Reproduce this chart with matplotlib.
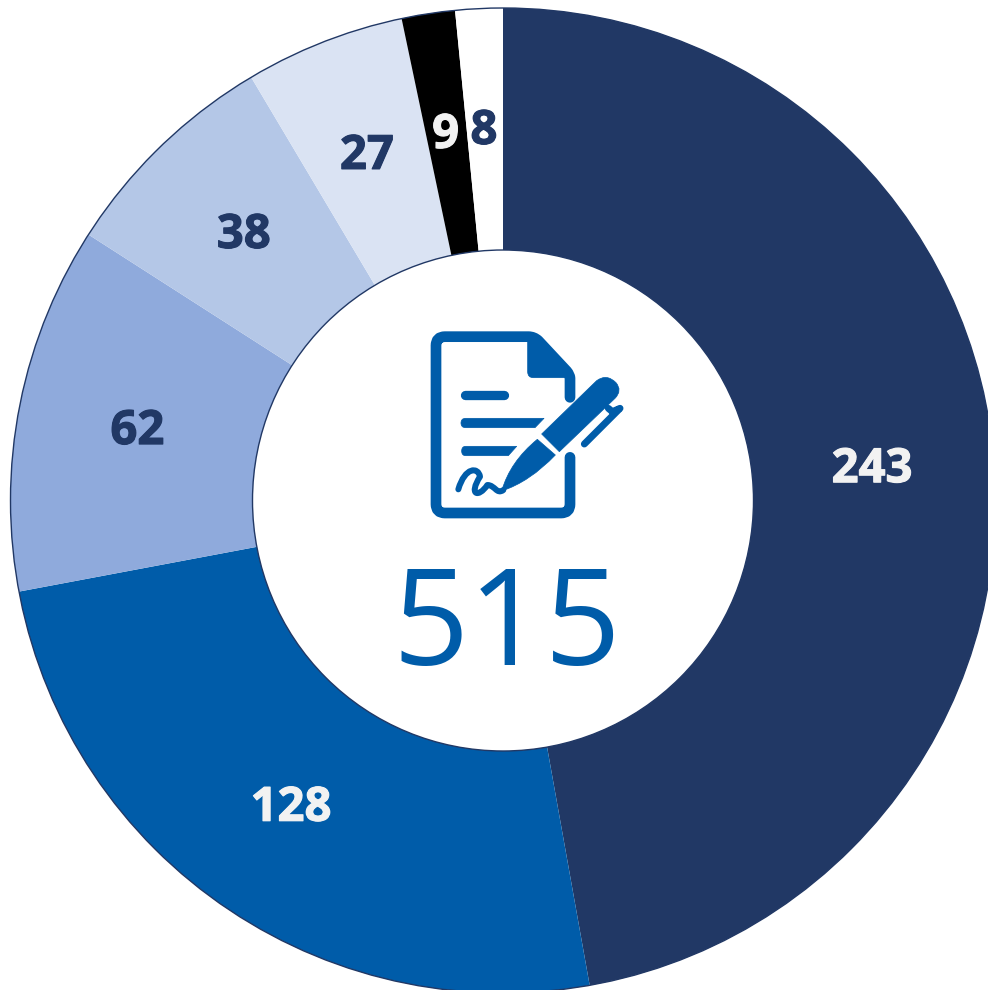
import numpy as np
import matplotlib
matplotlib.use('Agg')
import matplotlib.pyplot as plt
import matplotlib.patheffects as pe
from matplotlib.patches import Circle, PathPatch
from matplotlib.path import Path

values = [243, 128, 62, 38, 27, 9, 8]
total = 515
colors = ['#213865', '#005CA9', '#8FAADC', '#B4C7E7', '#DAE3F3', '#000000', '#FFFFFF']
label_colors = ['#F2F2F2', '#F2F2F2', '#213865', '#213865', '#213865', '#F2F2F2', '#213865']
icon_color = '#005CA9'
navy = '#213865'

fig = plt.figure(figsize=(9.88, 9.90), dpi=100)
ax = fig.add_axes([0, 0, 1, 1])

# pixel layout of the ring
cx, cy = 503, 489.5
R = 492.5
r = 250.5

wedges, _ = ax.pie(values, colors=colors, startangle=90, counterclock=False,
                   center=(cx, cy), radius=R, wedgeprops={'width': R - r, 'linewidth': 0})
ax.set_xlim(0, 988)
ax.set_ylim(0, 990)
ax.set_aspect('equal')
ax.axis('off')

# thin outline on outer and inner arcs only
ax.add_patch(Circle((cx, cy), R, fill=False, edgecolor=navy, linewidth=1))
ax.add_patch(Circle((cx, cy), r, fill=False, edgecolor=navy, linewidth=1))

for w, v, c in zip(wedges, values, label_colors):
    a = np.deg2rad((w.theta1 + w.theta2) / 2)
    d = (R + r) / 2
    ax.text(cx + d * np.cos(a) - 1, cy + d * np.sin(a) + 3.5, str(v), color=c, fontsize=34,
            fontweight='bold', family='Open Sans', ha='center', va='center_baseline',
            path_effects=[pe.withStroke(linewidth=0.8, foreground=c)])

ax.text(507, 325, str(total), color=icon_color, fontsize=96, family='Open Sans',
        ha='center', va='baseline')


# icon, traced in the zoomed crop (3x, origin at 400,310)
def z(pts):
    return [(400 + x / 3, 990 - (310 + y / 3)) for x, y in pts]


M, L, C3, C4, CL = Path.MOVETO, Path.LINETO, Path.CURVE3, Path.CURVE4, Path.CLOSEPOLY


def stroke(pts, lw, codes=None):
    xy = z(pts)
    if codes is None:
        codes = [M] + [L] * (len(xy) - 1)
    ax.add_patch(PathPatch(Path(xy, codes), fill=False, edgecolor=icon_color, linewidth=lw,
                           capstyle='round', joinstyle='round'))


def fill(pts, codes):
    ax.add_patch(PathPatch(Path(z(pts), codes), facecolor=icon_color, edgecolor=icon_color,
                           linewidth=0.5, joinstyle='round'))


# page outline
stroke([(510, 262), (510, 205), (510, 195), (500, 183), (415, 92), (402, 80), (385, 80),
        (135, 80), (108, 80), (108, 107), (108, 582), (108, 609), (135, 609),
        (483, 609), (510, 609), (510, 582), (510, 442)], 7.7,
       [M, L, C3, C3, L, C3, C3, L, C3, C3, L, C3, C3, L, C3, C3, L])
# folded corner
fill([(383, 85), (410, 85), (510, 190), (510, 203), (400, 203), (383, 203), (383, 185), (383, 85), (383, 85)],
     [M, L, L, L, L, C3, C3, L, CL])
# text lines
stroke([(195, 254), (312, 254)], 6.7)
fill([(197, 325), (432, 325), (405, 353), (197, 353), (183, 353), (183, 339), (183, 325), (197, 325), (197, 325)],
     [M, L, L, L, C3, C3, C3, C3, CL])
fill([(197, 409), (350, 409), (325, 437), (197, 437), (185, 437), (185, 423), (185, 409), (197, 409), (197, 409)],
     [M, L, L, L, C3, C3, C3, C3, CL])
# pen barrel
fill([(425, 372), (590, 212), (620, 190), (648, 218), (668, 242), (645, 265), (478, 425), (425, 372), (425, 372)],
     [M, L, C3, C3, C3, C3, L, L, CL])
# pen clip
stroke([(625, 295), (637, 305), (660, 295), (553, 402)], 5)
# pen tip
fill([(412, 388), (466, 435), (390, 515), (305, 543), (330, 455), (412, 388), (412, 388)],
     [M, L, C3, C3, C3, C3, CL])
# signature
stroke([(175, 538), (195, 470), (235, 470), (240, 500), (205, 555), (235, 565), (262, 525),
        (285, 525), (290, 555), (310, 540)], 4.3, [M] + [C4] * 9)

fig.savefig('out.png', dpi=100)
